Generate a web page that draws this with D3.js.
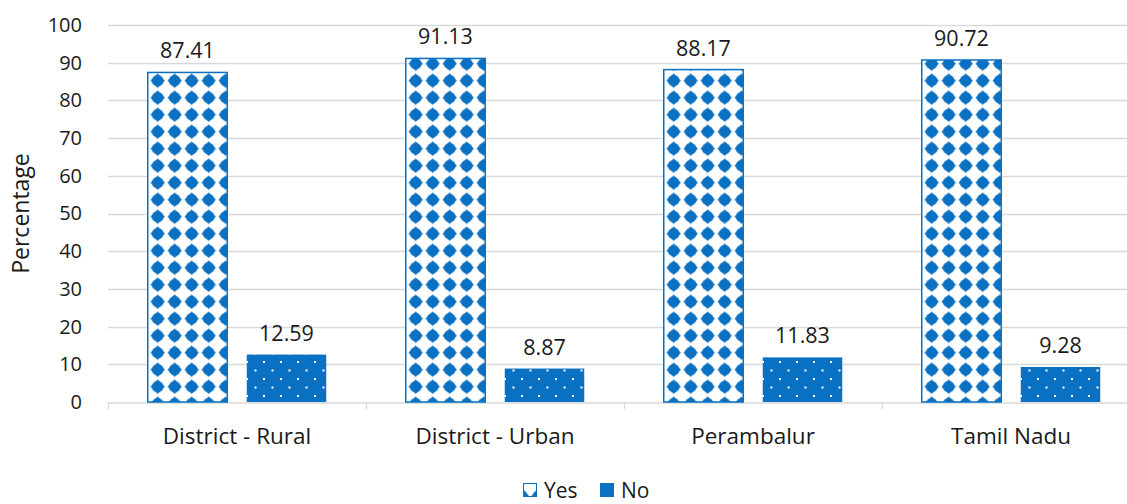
<!DOCTYPE html>
<html>
<head>
<meta charset="utf-8">
<script src="https://cdn.jsdelivr.net/npm/d3@7"></script>
<style>
  html, body { margin: 0; padding: 0; background: #fff; }
  svg { display: block; font-family: "Open Sans", "Noto Sans", sans-serif; }
</style>
</head>
<body>
<svg id="chart" width="1127" height="504"></svg>
<script>
// Household responses by area (percentage)
const categories = ["District - Rural", "District - Urban", "Perambalur", "Tamil Nadu"];
const seriesNames = ["Yes", "No"];
const yesValues = [87.41, 91.13, 88.17, 90.72];
const noValues = [12.59, 8.87, 11.83, 9.28];
const yTicks = [0, 10, 20, 30, 40, 50, 60, 70, 80, 90, 100];

const blue = "#0a70c2";
const grid = "#d9d9d9";
const textColor = "#1a1a1a";

const svg = d3.select("#chart");
const W = 1127, H = 504;
const x0 = 108, x1 = 1140;
const yTop = 25, yBottom = 402;

const x = d3.scaleBand().domain(categories).range([x0, x1]).paddingInner(0).paddingOuter(0);
const bw = x.bandwidth();
const inner = d3.scaleBand().domain(seriesNames).range([bw * 39 / 258, bw * (258 - 39) / 258])
  .paddingInner(18 / 99).paddingOuter(0);
const y = d3.scaleLinear().domain([0, 100]).range([yBottom, yTop]);

// Fill patterns
const defs = svg.append("defs");
const pYes = defs.append("pattern").attr("id", "pat-yes")
  .attr("patternUnits", "userSpaceOnUse").attr("width", 17).attr("height", 17)
  .attr("x", 7.2).attr("y", 4.2);
pYes.append("rect").attr("width", 17).attr("height", 17).attr("fill", "#fff");
pYes.append("path").attr("d", "M8.5,1.3 L15.7,8.5 L8.5,15.7 L1.3,8.5 Z").attr("fill", blue);
pYes.append("circle").attr("cx", 8.5).attr("cy", 8.5).attr("r", 5.8).attr("fill", blue);

const pNo = defs.append("pattern").attr("id", "pat-no")
  .attr("patternUnits", "userSpaceOnUse").attr("width", 17).attr("height", 17)
  .attr("x", 0).attr("y", 0);
pNo.append("rect").attr("width", 17).attr("height", 17).attr("fill", blue);
pNo.append("rect").attr("x", 2).attr("y", 4).attr("width", 2).attr("height", 2).attr("fill", "#fff");
pNo.append("rect").attr("x", 10.5).attr("y", 12.5).attr("width", 2).attr("height", 2).attr("fill", "#fff");

// Gridlines
svg.append("g").selectAll("line").data(yTicks.filter(t => t > 0)).join("line")
  .attr("x1", x0).attr("x2", W)
  .attr("y1", d => Math.round(y(d)) + 0.5).attr("y2", d => Math.round(y(d)) + 0.5)
  .attr("stroke", grid).attr("stroke-width", 1.3);

// Y axis labels
const yAxis = d3.axisLeft(y).tickValues(yTicks).tickSize(0).tickPadding(26);
const gy = svg.append("g").attr("transform", `translate(${x0},0)`).call(yAxis);
gy.select(".domain").remove();
gy.selectAll("text").attr("fill", textColor).style("font-size", "20px")
  .style("font-family", "'Open Sans', sans-serif");

// X axis baseline with category separators
const xAxis = d3.axisBottom(x).tickSize(0).tickPadding(26);
const gx = svg.append("g").attr("transform", `translate(0,${Math.round(yBottom) + 0.5})`).call(xAxis);
gx.select(".domain").attr("stroke", grid).attr("stroke-width", 1.3);
gx.selectAll("text").attr("fill", textColor).style("font-size", "22.5px")
  .style("font-family", "'Open Sans', sans-serif");
svg.append("g").selectAll("line").data(categories.concat(["__end"])).join("line")
  .attr("x1", (d, i) => Math.round(x0 + i * bw) + 0.5)
  .attr("x2", (d, i) => Math.round(x0 + i * bw) + 0.5)
  .attr("y1", yBottom).attr("y2", yBottom + 7)
  .attr("stroke", grid).attr("stroke-width", 1.3);

// Bars
const rows = categories.map((c, i) => ({ cat: c, vals: [
  { key: "Yes", v: yesValues[i] }, { key: "No", v: noValues[i] }] }));
const groups = svg.append("g").selectAll("g").data(rows).join("g")
  .attr("transform", d => `translate(${x(d.cat)},0)`);
groups.selectAll("rect").data(d => d.vals).join("rect")
  .attr("x", d => inner(d.key) + 0.75)
  .attr("y", d => y(d.v))
  .attr("width", inner.bandwidth() - 1.5)
  .attr("height", d => yBottom - y(d.v))
  .attr("fill", d => d.key === "Yes" ? "url(#pat-yes)" : "url(#pat-no)")
  .attr("stroke", d => d.key === "Yes" ? blue : "none")
  .attr("stroke-width", 1.5);
groups.selectAll("text").data(d => d.vals).join("text")
  .attr("x", d => inner(d.key) + inner.bandwidth() / 2)
  .attr("y", d => y(d.v) - 14)
  .attr("text-anchor", "middle")
  .attr("fill", textColor).style("font-size", "21.5px")
  .text(d => d.v.toFixed(2));

// Y axis title
svg.append("text")
  .attr("transform", `translate(29,${(yTop + yBottom) / 2}) rotate(-90)`)
  .attr("text-anchor", "middle").attr("fill", textColor).style("font-size", "23px")
  .text("Percentage");

// Legend
const legend = svg.append("g").attr("transform", "translate(523,483)");
const legendItems = [{ key: "Yes", dx: 0 }, { key: "No", dx: 77 }];
const li = legend.selectAll("g").data(legendItems).join("g")
  .attr("transform", d => `translate(${d.dx},0)`);
li.append("rect").attr("x", 0.5).attr("y", 0.5).attr("width", 13).attr("height", 13)
  .attr("fill", d => d.key === "Yes" ? "url(#pat-yes)" : blue)
  .attr("stroke", blue).attr("stroke-width", 1);
li.append("text").attr("x", 21).attr("y", 14.5).attr("fill", textColor)
  .style("font-size", "21px").text(d => d.key);
</script>
</body>
</html>
